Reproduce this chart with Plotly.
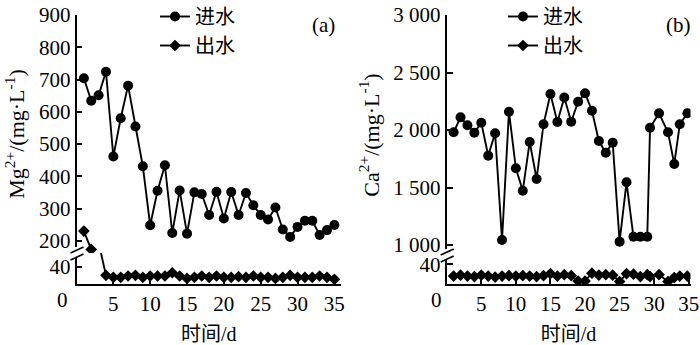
import plotly.graph_objects as go

# ---------------- data ----------------
days_a = list(range(1, 36))
mg_in = [704, 634, 651, 724, 461, 580, 681, 554, 431, 248, 355, 434, 224, 356, 222,
         350, 345, 280, 352, 269, 351, 280, 348, 310, 280, 266, 303, 235, 212, 243,
         262, 262, 218, 233, 249]
days_a_out = [1, 2] + list(range(4, 36))
mg_out = [230, 173, 20, 15.4, 15.4, 18.5, 20, 15.4, 18.5, 18.5, 18.5, 26, 18.5, 13,
          15.4, 18.5, 15.4, 18.5, 15.4, 15.4, 17, 15.4, 18.5, 15.4, 15.4, 13, 15.4,
          20, 15.4, 15.4, 15.4, 18.5, 15.4, 10.8]

days_b = list(range(1, 30)) + [29.4, 30.7, 32.0, 32.9, 33.7, 34.8]
ca_in = [1980, 2110, 2041, 1977, 2063, 1777, 1971, 1043, 2159, 1667, 1472, 1896,
         1574, 2050, 2313, 2070, 2283, 2072, 2246, 2319, 2168, 1904, 1803, 1890,
         1029, 1545, 1072, 1072, 1072, 2020, 2145, 1980, 1704, 2050, 2145]
ca_out = [16, 18, 16, 15, 18, 16, 14, 16, 17, 16, 17, 16, 15, 17, 21, 16, 19, 17,
          6, 6, 22, 18, 19, 18, 5, 21, 20, 15, 19, 15, 19, 5, 13, 16, 16]

mg_ticks = [200, 300, 400, 500, 600, 700, 800, 900]
ca_ticks = [1000, 1500, 2000, 2500, 3000]
ca_ticktext = ["1 000", "1 500", "2 000", "2 500", "3 000"]
x_ticks = [5, 10, 15, 20, 25, 30, 35]

# ---------------- layout helpers ----------------
W, H = 700, 345
def px(x):
    return x / W
def py(y):
    return (H - y) / H

FONT = "Liberation Serif, Times New Roman, Noto Sans CJK SC, serif"
BLACK = "#000000"

fig = go.Figure()

def add_series(x, y, xa, ya, name, symbol, size, legend, showlegend):
    fig.add_trace(go.Scatter(
        x=x, y=y, xaxis=xa, yaxis=ya, name=name, mode="lines+markers",
        line=dict(color=BLACK, width=1.9),
        marker=dict(symbol=symbol, size=size, color=BLACK),
        legend=legend, showlegend=showlegend))

# panel a
add_series(days_a, mg_in, "x", "y", "进水", "circle", 10, "legend", True)
add_series(days_a_out, mg_out, "x", "y", "出水", "diamond", 9, "legend", True)
add_series(days_a_out, mg_out, "x", "y2", "出水", "diamond", 9, "legend", False)
# panel b
add_series(days_b, ca_in, "x2", "y3", "进水", "circle", 10, "legend2", True)
add_series(days_b, ca_out, "x2", "y3", "出水", "diamond", 9, "legend2", False)
add_series(days_b, ca_out, "x2", "y4", "出水", "diamond", 9, "legend2", True)

axis_common = dict(showline=True, linecolor=BLACK, linewidth=1.8, ticks="inside",
                   ticklen=6, tickwidth=1.6, tickcolor=BLACK, showgrid=False,
                   zeroline=False, automargin=False, ticklabeloverflow="allow",
                   tickfont=dict(family=FONT, size=21, color=BLACK))

top, bottom = 15, 284
brk_a, brk_b = 253, 255

fig.update_layout(
    template="none",
    width=W, height=H, margin=dict(l=0, r=0, t=0, b=0, autoexpand=False),
    paper_bgcolor="white", plot_bgcolor="white",
    font=dict(family=FONT, size=20, color=BLACK),
    xaxis=dict(domain=[px(76.5), px(341)], range=[0, 35.9], anchor="y2",
               tickvals=x_ticks, title=dict(text="时间/d", standoff=18,
               font=dict(family=FONT, size=20)), **axis_common),
    yaxis=dict(domain=[py(brk_a), py(top)], range=[162, 900], anchor="x",
               tickvals=mg_ticks,
               title=dict(text="Mg<sup>2+</sup>/(mg·L<sup>-1</sup>)", standoff=8,
                          font=dict(family=FONT, size=22)), **axis_common),
    yaxis2=dict(domain=[py(bottom), py(brk_a)], range=[0, 71.7], anchor="x",
                tickvals=[40], **axis_common),
    xaxis2=dict(domain=[px(446.7), px(690.5)], range=[0, 35.25], anchor="y4",
                tickvals=x_ticks, title=dict(text="时间/d", standoff=18,
                font=dict(family=FONT, size=20)), **axis_common),
    yaxis3=dict(domain=[py(brk_b), py(top)], range=[913, 3000], anchor="x2",
                tickvals=ca_ticks, ticktext=ca_ticktext,
                title=dict(text="Ca<sup>2+</sup>/(mg·L<sup>-1</sup>)", standoff=8,
                           font=dict(family=FONT, size=22)), **axis_common),
    yaxis4=dict(domain=[py(bottom), py(brk_b)], range=[0, 58.9], anchor="x2",
                tickvals=[40], **axis_common),
    legend=dict(x=px(155), y=1.0 + 3 / H, xanchor="left", yanchor="top",
                bgcolor="rgba(0,0,0,0)", font=dict(family=FONT, size=20),
                tracegroupgap=0),
    legend2=dict(x=px(503), y=1.0 + 3 / H, xanchor="left", yanchor="top",
                 bgcolor="rgba(0,0,0,0)", font=dict(family=FONT, size=20),
                 tracegroupgap=0),
)

# panel labels and the origin "0" labels
for txt, x, y in [("(a)", 323, 25), ("(b)", 678, 25), ("0", 62.5, 300), ("0", 436.7, 300)]:
    fig.add_annotation(text=txt, x=px(x), y=py(y), xref="paper", yref="paper",
                       showarrow=False, xanchor="center", yanchor="middle",
                       font=dict(family=FONT, size=21, color=BLACK))

# axis-break decorations
shapes = []
for ax_x, y0, y1 in [(76.5, 247, 258), (446.7, 249, 260)]:
    shapes.append(dict(type="rect", xref="paper", yref="paper",
                       x0=px(ax_x - 3), x1=px(ax_x + 3), y0=py(y1), y1=py(y0),
                       fillcolor="white", line=dict(width=0), layer="above"))
    for yy in (y0 + 3, y1 - 1):
        shapes.append(dict(type="line", xref="paper", yref="paper",
                           x0=px(ax_x - 6), y0=py(yy + 3), x1=px(ax_x + 7), y1=py(yy - 3),
                           line=dict(color=BLACK, width=1.6), layer="above"))
fig.update_layout(shapes=shapes)

fig.write_html("out.html")
